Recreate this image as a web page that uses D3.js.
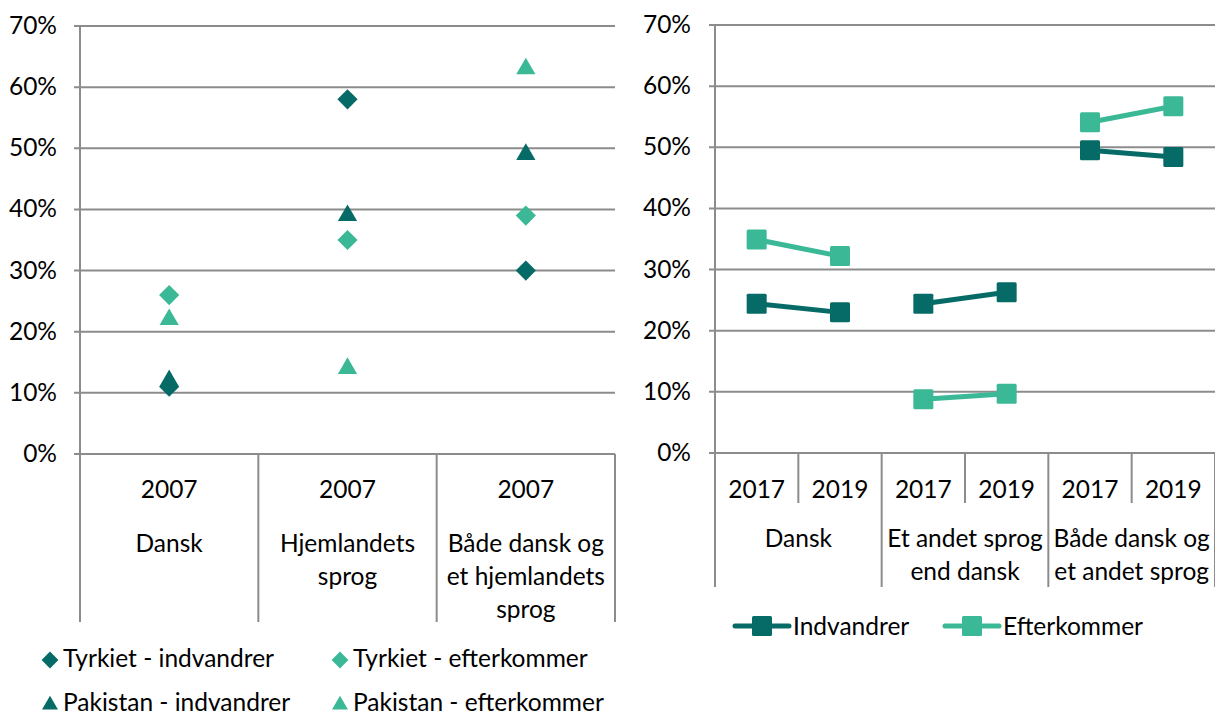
<!DOCTYPE html>
<html>
<head>
<meta charset="utf-8">
<script src="https://cdn.jsdelivr.net/npm/d3@7"></script>
<style>
  body { margin: 0; background: #fff; }
  text { font-family: Lato, "Open Sans", sans-serif; fill: #000; }
</style>
</head>
<body>
<svg id="chart" width="1215" height="717"></svg>
<script>
// left chart data (2007)
var leftCats = [["Dansk"], ["Hjemlandets", "sprog"], ["Både dansk og", "et hjemlandets", "sprog"]]
var leftYear = "2007"
var tyrkietIndv = [0.11, 0.58, 0.30]
var tyrkietEft = [0.26, 0.35, 0.39]
var pakistanIndv = [0.12, 0.39, 0.49]
var pakistanEft = [0.22, 0.14, 0.63]

// right chart data
var rightGroups = [["Dansk"], ["Et andet sprog", "end dansk"], ["Både dansk og", "et andet sprog"]]
var rightYears = ["2017", "2019"]
var indvandrer = [[0.244, 0.230], [0.244, 0.263], [0.495, 0.484]]
var efterkommer = [[0.349, 0.322], [0.088, 0.097], [0.541, 0.567]]

var yTicks = [0, 0.1, 0.2, 0.3, 0.4, 0.5, 0.6, 0.7]

var dark = "#066b66", light = "#3bb997", grid = "#8c8c8c"
var fs = 24.5

var svg = d3.select("#chart")

// ---------- left chart ----------
var yL = d3.scaleLinear().domain([0, 0.7]).range([454, 26])
var xL = d3.scaleBand().domain(d3.range(3)).range([80, 615])

var gL = svg.append("g")
gL.selectAll(".grid").data(yTicks).enter().append("line")
    .attr("x1", 74).attr("x2", 615)
    .attr("y1", function(d){ return yL(d) }).attr("y2", function(d){ return yL(d) })
    .attr("stroke", grid).attr("stroke-width", 2)
gL.selectAll(".ylab").data(yTicks).enter().append("text")
    .attr("x", 57).attr("y", function(d){ return yL(d) + 8 })
    .attr("text-anchor", "end").style("font-size", fs + "px")
    .text(function(d){ return Math.round(d * 100) + "%" })
// axis + dividers
gL.append("line").attr("x1", 80).attr("x2", 80).attr("y1", 26).attr("y2", 622)
    .attr("stroke", grid).attr("stroke-width", 2)
gL.selectAll(".div").data(d3.range(3)).enter().append("line")
    .attr("x1", function(d){ return xL(d) + xL.bandwidth() }).attr("x2", function(d){ return xL(d) + xL.bandwidth() })
    .attr("y1", 454).attr("y2", 622)
    .attr("stroke", grid).attr("stroke-width", 2)
// labels
leftCats.forEach(function(lines, i) {
  var cx = xL(i) + xL.bandwidth() / 2
  gL.append("text").attr("x", cx).attr("y", 498).attr("text-anchor", "middle")
    .style("font-size", fs + "px").text(leftYear)
  lines.forEach(function(t, j) {
    gL.append("text").attr("x", cx).attr("y", 552 + j * 33).attr("text-anchor", "middle")
      .style("font-size", fs + "px").text(t)
  })
})

var diamond = d3.symbol().type(d3.symbolDiamond2).size(260)
var triangle = d3.symbol().type(d3.symbolTriangle).size(160)

var scatterSeries = [
  {vals: tyrkietIndv, sym: diamond, col: dark},
  {vals: tyrkietEft, sym: diamond, col: light},
  {vals: pakistanIndv, sym: triangle, col: dark},
  {vals: pakistanEft, sym: triangle, col: light}
]
scatterSeries.forEach(function(s) {
  gL.selectAll(null).data(s.vals).enter().append("path")
    .attr("d", s.sym)
    .attr("transform", function(d, i){ return "translate(" + (xL(i) + xL.bandwidth() / 2) + "," + yL(d) + ")" })
    .attr("fill", s.col)
})

// left legend
var legDiamond = d3.symbol().type(d3.symbolDiamond2).size(180)
var legTriangle = d3.symbol().type(d3.symbolTriangle).size(110)
var legL = [
  {label: "Tyrkiet - indvandrer", sym: legDiamond, col: dark, x: 50, y: 667, dy: -7},
  {label: "Tyrkiet - efterkommer", sym: legDiamond, col: light, x: 340, y: 667, dy: -7},
  {label: "Pakistan - indvandrer", sym: legTriangle, col: dark, x: 50, y: 711, dy: -6},
  {label: "Pakistan - efterkommer", sym: legTriangle, col: light, x: 340, y: 711, dy: -6}
]
legL.forEach(function(l) {
  gL.append("path").attr("d", l.sym())
    .attr("transform", "translate(" + l.x + "," + (l.y + l.dy) + ")").attr("fill", l.col)
  gL.append("text").attr("x", l.x + 13).attr("y", l.y)
    .style("font-size", fs + "px").text(l.label)
})

// ---------- right chart ----------
var yR = d3.scaleLinear().domain([0, 0.7]).range([453, 25])
var xR = d3.scaleBand().domain(d3.range(6)).range([715, 1215])
var gR = svg.append("g")
gR.selectAll(".grid").data(yTicks).enter().append("line")
    .attr("x1", 709).attr("x2", 1215)
    .attr("y1", function(d){ return yR(d) }).attr("y2", function(d){ return yR(d) })
    .attr("stroke", grid).attr("stroke-width", 2)
gR.selectAll(".ylab").data(yTicks).enter().append("text")
    .attr("x", 691).attr("y", function(d){ return yR(d) + 8 })
    .attr("text-anchor", "end").style("font-size", fs + "px")
    .text(function(d){ return Math.round(d * 100) + "%" })
gR.append("line").attr("x1", 715).attr("x2", 715).attr("y1", 25).attr("y2", 587)
    .attr("stroke", grid).attr("stroke-width", 2)
d3.range(6).forEach(function(i) {
  var x = xR(i) + xR.bandwidth()
  gR.append("line").attr("x1", x).attr("x2", x).attr("y1", 453)
    .attr("y2", i % 2 === 1 ? 587 : 503)
    .attr("stroke", grid).attr("stroke-width", 2)
  gR.append("text").attr("x", xR(i) + xR.bandwidth() / 2).attr("y", 498)
    .attr("text-anchor", "middle").style("font-size", fs + "px")
    .text(rightYears[i % 2])
})
rightGroups.forEach(function(lines, g) {
  var cx = xR(g * 2) + xR.bandwidth()
  lines.forEach(function(t, j) {
    gR.append("text").attr("x", cx).attr("y", 547 + j * 33).attr("text-anchor", "middle")
      .style("font-size", fs + "px").text(t)
  })
})

var line = d3.line()
  .x(function(d){ return xR(d.slot) + xR.bandwidth() / 2 })
  .y(function(d){ return yR(d.v) })

var lineSeries = [{data: indvandrer, col: dark}, {data: efterkommer, col: light}]
lineSeries.forEach(function(s) {
  s.data.forEach(function(pair, g) {
    var pts = pair.map(function(v, k){ return {slot: g * 2 + k, v: v} })
    gR.append("path").attr("d", line(pts)).attr("fill", "none")
      .attr("stroke", s.col).attr("stroke-width", 5)
    gR.selectAll(null).data(pts).enter().append("rect")
      .attr("x", function(d){ return xR(d.slot) + xR.bandwidth() / 2 - 10 })
      .attr("y", function(d){ return yR(d.v) - 10 })
      .attr("width", 20).attr("height", 20).attr("rx", 1.5)
      .attr("fill", s.col)
  })
})

// right legend
var legR = [
  {label: "Indvandrer", col: dark, x: 735},
  {label: "Efterkommer", col: light, x: 945}
]
legR.forEach(function(l) {
  gR.append("line").attr("x1", l.x).attr("x2", l.x + 54).attr("y1", 626).attr("y2", 626)
    .attr("stroke", l.col).attr("stroke-width", 5).attr("stroke-linecap", "round")
  gR.append("rect").attr("x", l.x + 17).attr("y", 616).attr("width", 20).attr("height", 20)
    .attr("rx", 1.5).attr("fill", l.col)
  gR.append("text").attr("x", l.x + 58).attr("y", 635)
    .style("font-size", fs + "px").text(l.label)
})
</script>
</body>
</html>
